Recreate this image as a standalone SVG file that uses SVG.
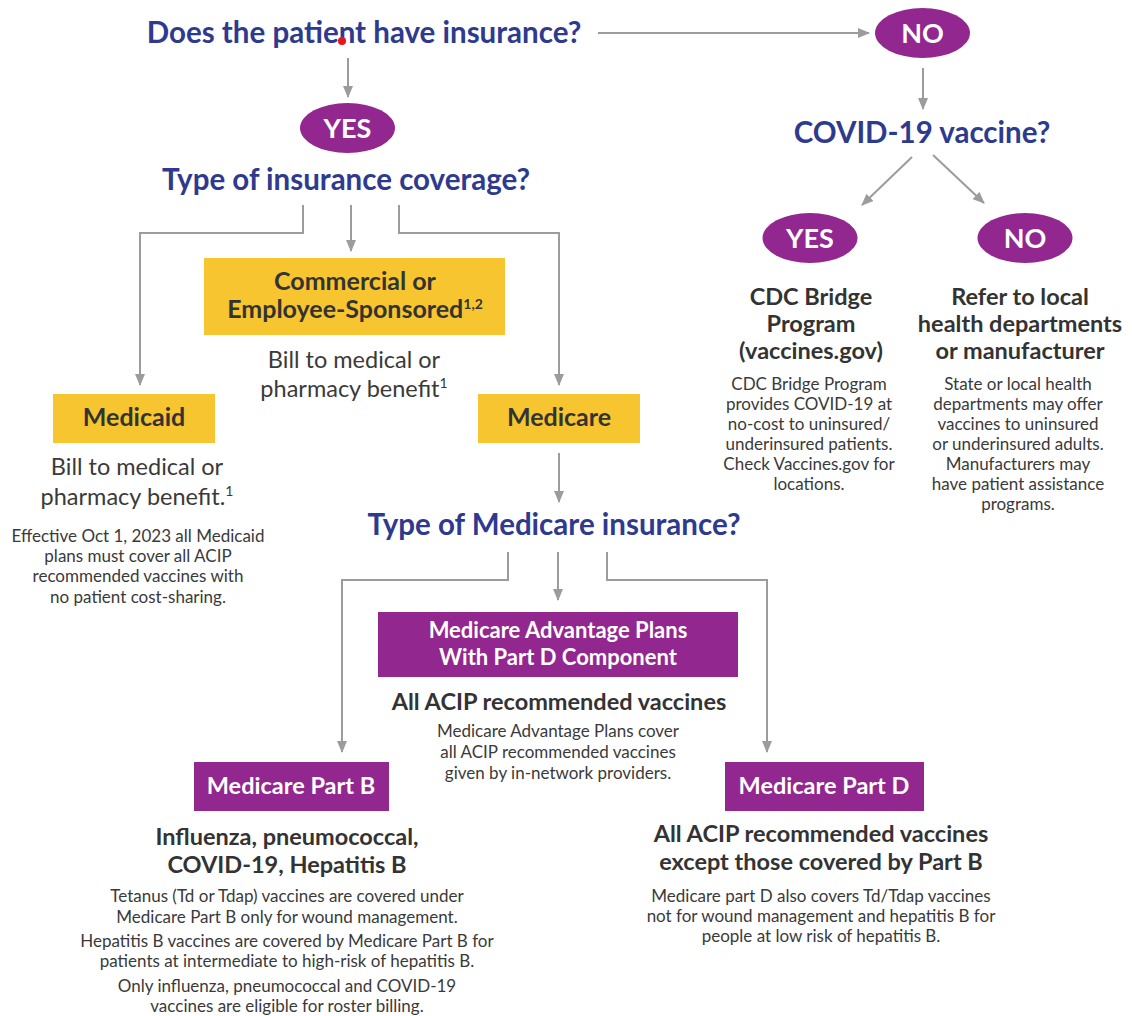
<svg xmlns="http://www.w3.org/2000/svg" width="1132" height="1016" viewBox="0 0 1132 1016">
<style>
text{font-family:Lato,"Liberation Sans",sans-serif;text-anchor:middle}
.q{font-size:29.5px;font-weight:bold;fill:#2e3a8e}
.h{font-size:23.5px;font-weight:bold;fill:#333}
.l{font-size:25px;font-weight:bold;fill:#333}
.b{font-size:23.5px;fill:#3a3a3a}
.s{font-size:17px;fill:#3a3a3a}
.w{font-size:23.5px;font-weight:bold;fill:#fff}
.wa{font-size:22px;font-weight:bold;fill:#fff}
.e{font-size:27px;font-weight:bold;fill:#fff}
.pill{fill:#92278f}
.pbox{fill:#92278f}
.ybox{fill:#f7c52f}
.c{fill:none;stroke:#9c9c9c;stroke-width:2}
.sup{font-size:14px}
</style>
<defs>
<marker id="ah" viewBox="0 0 12 10" refX="11" refY="5" markerWidth="12" markerHeight="10" markerUnits="userSpaceOnUse" orient="auto">
<path d="M0,0 L12,5 L0,10 Z" fill="#9c9c9c"/>
</marker>
</defs>

<g id="connectors">
<path class="c" d="M598,33 H869" marker-end="url(#ah)"/>
<path class="c" d="M348,58 V97" marker-end="url(#ah)"/>
<path class="c" d="M303,205 V233 H140 V385" marker-end="url(#ah)"/>
<path class="c" d="M351,205 V251" marker-end="url(#ah)"/>
<path class="c" d="M399,205 V233 H559 V385" marker-end="url(#ah)"/>
<path class="c" d="M559,453 V502" marker-end="url(#ah)"/>
<path class="c" d="M508,552 V580 H342 V752" marker-end="url(#ah)"/>
<path class="c" d="M558,552 V600" marker-end="url(#ah)"/>
<path class="c" d="M607,552 V580 H767 V752" marker-end="url(#ah)"/>
<path class="c" d="M923,68 V109" marker-end="url(#ah)"/>
<path class="c" d="M912,157 L862,205" marker-end="url(#ah)"/>
<path class="c" d="M933,155 L984,203" marker-end="url(#ah)"/>
</g>

<g id="q-insurance">
<text class="q" x="364" y="43">Does the patient have insurance?</text>
<circle cx="342" cy="41" r="4" fill="#e8141c"/>
</g>

<g id="no-top">
<ellipse class="pill" cx="922.5" cy="33" rx="47.5" ry="25"/>
<text class="e" x="922.5" y="43">NO</text>
</g>

<g id="yes-top">
<ellipse class="pill" cx="347.5" cy="128" rx="47.5" ry="25"/>
<text class="e" x="347.5" y="138">YES</text>
</g>

<g id="q-coverage">
<text class="q" x="346" y="190">Type of insurance coverage?</text>
</g>

<g id="commercial">
<rect class="ybox" x="204" y="258" width="301" height="77"/>
<text class="l" x="355" y="290">Commercial or</text>
<text class="l" x="355" y="318">Employee-Sponsored<tspan class="sup" dy="-9">1,2</tspan></text>
<text class="b" x="354" y="368">Bill to medical or</text>
<text class="b" x="354" y="397">pharmacy benefit<tspan class="sup" dy="-9">1</tspan></text>
</g>

<g id="medicaid">
<rect class="ybox" x="53" y="394" width="162" height="49"/>
<text class="l" x="134" y="426">Medicaid</text>
<text class="b" x="137" y="475">Bill to medical or</text>
<text class="b" x="137" y="505">pharmacy benefit.<tspan class="sup" dy="-9">1</tspan></text>
<text class="s" x="138" y="542">Effective Oct 1, 2023 all Medicaid</text>
<text class="s" x="138" y="562">plans must cover all ACIP</text>
<text class="s" x="138" y="582">recommended vaccines with</text>
<text class="s" x="138" y="603">no patient cost-sharing.</text>
</g>

<g id="medicare">
<rect class="ybox" x="478" y="394" width="162" height="49"/>
<text class="l" x="559" y="426">Medicare</text>
</g>

<g id="q-medicare">
<text class="q" x="554" y="535">Type of Medicare insurance?</text>
</g>

<g id="advantage">
<rect class="pbox" x="378" y="612" width="360" height="65"/>
<text class="wa" x="558" y="638">Medicare Advantage Plans</text>
<text class="wa" x="558" y="665">With Part D Component</text>
<text class="h" x="559" y="710">All ACIP recommended vaccines</text>
<text class="s" x="558" y="737">Medicare Advantage Plans cover</text>
<text class="s" x="558" y="758">all ACIP recommended vaccines</text>
<text class="s" x="558" y="779">given by in-network providers.</text>
</g>

<g id="part-b">
<rect class="pbox" x="194" y="762" width="195" height="49"/>
<text class="w" x="291" y="794">Medicare Part B</text>
<text class="h" x="287" y="845">Influenza, pneumococcal,</text>
<text class="h" x="287" y="873">COVID-19, Hepatitis B</text>
<text class="s" x="287" y="902">Tetanus (Td or Tdap) vaccines are covered under</text>
<text class="s" x="287" y="923">Medicare Part B only for wound management.</text>
<text class="s" x="287" y="947">Hepatitis B vaccines are covered by Medicare Part B for</text>
<text class="s" x="287" y="967">patients at intermediate to high-risk of hepatitis B.</text>
<text class="s" x="287" y="992">Only influenza, pneumococcal and COVID-19</text>
<text class="s" x="287" y="1012">vaccines are eligible for roster billing.</text>
</g>

<g id="part-d">
<rect class="pbox" x="725" y="762" width="199" height="49"/>
<text class="w" x="824" y="794">Medicare Part D</text>
<text class="h" x="821" y="842">All ACIP recommended vaccines</text>
<text class="h" x="821" y="870">except those covered by Part B</text>
<text class="s" x="821" y="902">Medicare part D also covers Td/Tdap vaccines</text>
<text class="s" x="821" y="922">not for wound management and hepatitis B for</text>
<text class="s" x="821" y="942">people at low risk of hepatitis B.</text>
</g>

<g id="q-covid">
<text class="q" x="922" y="143">COVID-19 vaccine?</text>
</g>

<g id="yes-covid">
<ellipse class="pill" cx="810" cy="238" rx="47.5" ry="25"/>
<text class="e" x="810" y="248">YES</text>
<text class="h" x="811" y="305">CDC Bridge</text>
<text class="h" x="811" y="332">Program</text>
<text class="h" x="811" y="359">(vaccines.gov)</text>
<text class="s" x="809" y="390">CDC Bridge Program</text>
<text class="s" x="809" y="410">provides COVID-19 at</text>
<text class="s" x="809" y="430">no-cost to uninsured/</text>
<text class="s" x="809" y="450">underinsured patients.</text>
<text class="s" x="809" y="470">Check Vaccines.gov for</text>
<text class="s" x="809" y="490">locations.</text>
</g>

<g id="no-covid">
<ellipse class="pill" cx="1025" cy="238" rx="47.5" ry="25"/>
<text class="e" x="1025" y="248">NO</text>
<text class="h" x="1020" y="305">Refer to local</text>
<text class="h" x="1020" y="332">health departments</text>
<text class="h" x="1020" y="359">or manufacturer</text>
<text class="s" x="1018" y="390">State or local health</text>
<text class="s" x="1018" y="410">departments may offer</text>
<text class="s" x="1018" y="430">vaccines to uninsured</text>
<text class="s" x="1018" y="450">or underinsured adults.</text>
<text class="s" x="1018" y="470">Manufacturers may</text>
<text class="s" x="1018" y="490">have patient assistance</text>
<text class="s" x="1018" y="510">programs.</text>
</g>
</svg>
